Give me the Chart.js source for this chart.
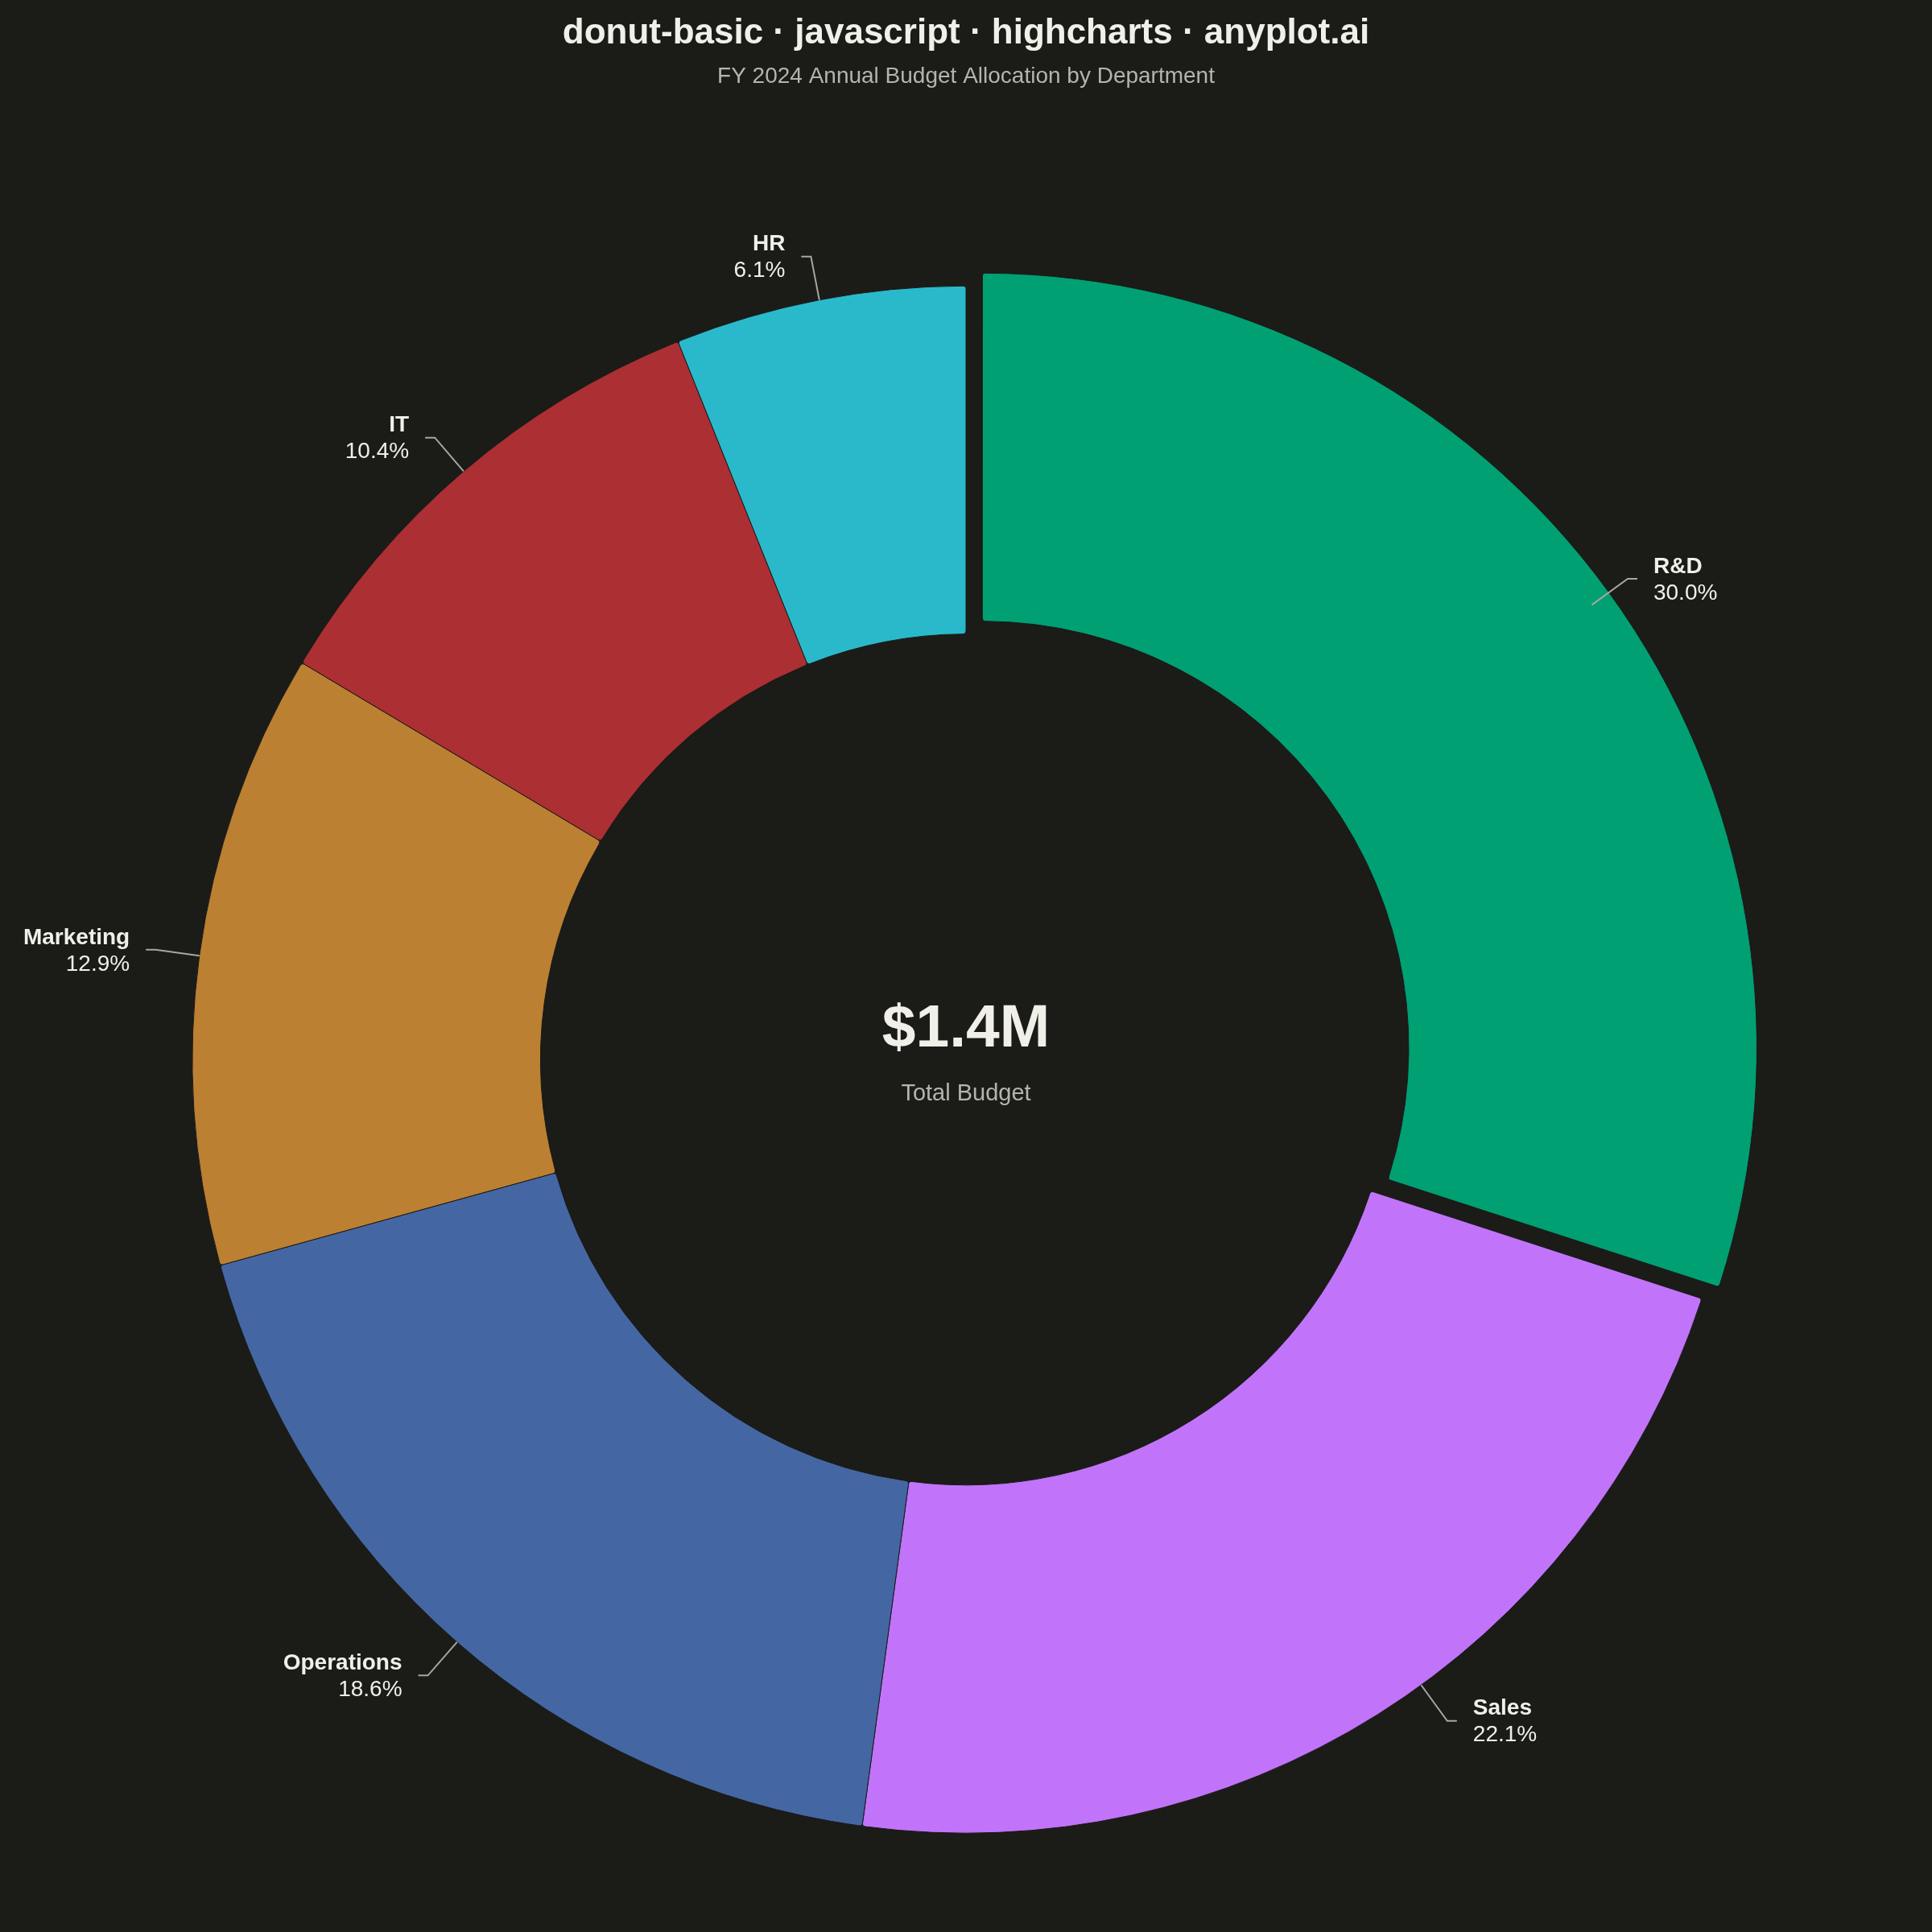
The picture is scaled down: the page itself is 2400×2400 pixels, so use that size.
<!DOCTYPE html>
<html>
<head>
<meta charset="utf-8">
<script src="https://cdn.jsdelivr.net/npm/chart.js@4"></script>
<style>
  html, body { margin: 0; padding: 0; background: #1b1b18; }
  #wrap { width: 2400px; height: 2400px; }
</style>
</head>
<body>
<div id="wrap"><canvas id="main-chart" width="2400" height="2400"></canvas></div>
<script>
const departments = ['R&D', 'Sales', 'Operations', 'Marketing', 'IT', 'HR'];
const budget = [420000, 310000, 260000, 180000, 145000, 85000];
const colors = ['#00a073', '#c174fa', '#4467a3', '#bc8033', '#ab2f33', '#2ab9cb'];
const sliced = [true, false, false, false, false, false];

const BG = '#1b1b18';
const TEXT = '#f0efe8';
const MUTED = '#b5b4ac';
const FONT = '"Liberation Sans", Arial, Helvetica, sans-serif';

const total = budget.reduce((a, b) => a + b, 0);

// chart.js divides arc offset by 4 when it translates the slice
const SLICE_OFFSET = 100;

// highcharts pushed the sales label up a little, copy that (degrees)
const labelNudge = { 'Sales': -3.9 };

// leader lines + labels, roughly like highcharts data labels
const labelPlugin = {
    id: 'sliceLabels',
    afterDatasetsDraw(chart) {
        const ctx = chart.ctx;
        const meta = chart.getDatasetMeta(0);
        ctx.save();
        meta.data.forEach((arc, i) => {
            const p = arc.getProps(['x', 'y', 'startAngle', 'endAngle', 'outerRadius'], true);
            const mid = (p.startAngle + p.endAngle) / 2 + (labelNudge[departments[i]] || 0) * Math.PI / 180;
            const cos = Math.cos(mid), sin = Math.sin(mid);
            const side = cos >= 0 ? 1 : -1;
            const x0 = p.x + cos * p.outerRadius;
            const y0 = p.y + sin * p.outerRadius;
            const x1 = p.x + cos * (p.outerRadius + 55);
            const y1 = p.y + sin * (p.outerRadius + 55);
            const x2 = x1 + side * 12;

            ctx.strokeStyle = '#a8a8a0';
            ctx.lineWidth = 2;
            ctx.beginPath();
            ctx.moveTo(x0, y0);
            ctx.lineTo(x1, y1);
            ctx.lineTo(x2, y1);
            ctx.stroke();

            const tx = x2 + side * 20;
            ctx.textAlign = side > 0 ? 'left' : 'right';
            ctx.textBaseline = 'middle';
            ctx.fillStyle = TEXT;
            ctx.font = 'bold 28px ' + FONT;
            ctx.fillText(departments[i], tx, y1 - 15);
            ctx.font = '28px ' + FONT;
            ctx.fillText((budget[i] / total * 100).toFixed(1) + '%', tx, y1 + 18);
        });

        // centre total
        const c = meta.data[0];
        ctx.textAlign = 'center';
        ctx.textBaseline = 'middle';
        ctx.fillStyle = TEXT;
        ctx.font = 'bold 75px ' + FONT;
        ctx.fillText('$' + (total / 1e6).toFixed(1) + 'M', c.x, c.y - 37);
        ctx.fillStyle = MUTED;
        ctx.font = '29px ' + FONT;
        ctx.fillText('Total Budget', c.x, c.y + 43);
        ctx.restore();
    }
};

const config = {
    type: 'doughnut',
    data: {
        labels: departments,
        datasets: [{
            data: budget,
            backgroundColor: colors,
            borderColor: BG,
            borderWidth: 1,
            borderRadius: 4,
            offset: sliced.map(s => s ? SLICE_OFFSET : 0),
        }]
    },
    options: {
        responsive: false,
        devicePixelRatio: 1,
        animation: false,
        events: [],
        radius: 961,
        cutout: '55%',
        layout: { padding: 0 },
        plugins: {
            legend: { display: false },
            tooltip: { enabled: false },
            title: {
                display: true,
                text: 'donut-basic · javascript · highcharts · anyplot.ai',
                color: TEXT,
                font: { family: FONT, size: 44, weight: 'bold' },
                padding: { top: 15, bottom: 0 },
            },
            subtitle: {
                display: true,
                text: 'FY 2024 Annual Budget Allocation by Department',
                color: MUTED,
                font: { family: FONT, size: 28 },
                padding: { top: 11, bottom: 120 },
            },
        },
    },
    plugins: [labelPlugin],
};

const myChart = new Chart(document.getElementById('main-chart'), config);
</script>
</body>
</html>
